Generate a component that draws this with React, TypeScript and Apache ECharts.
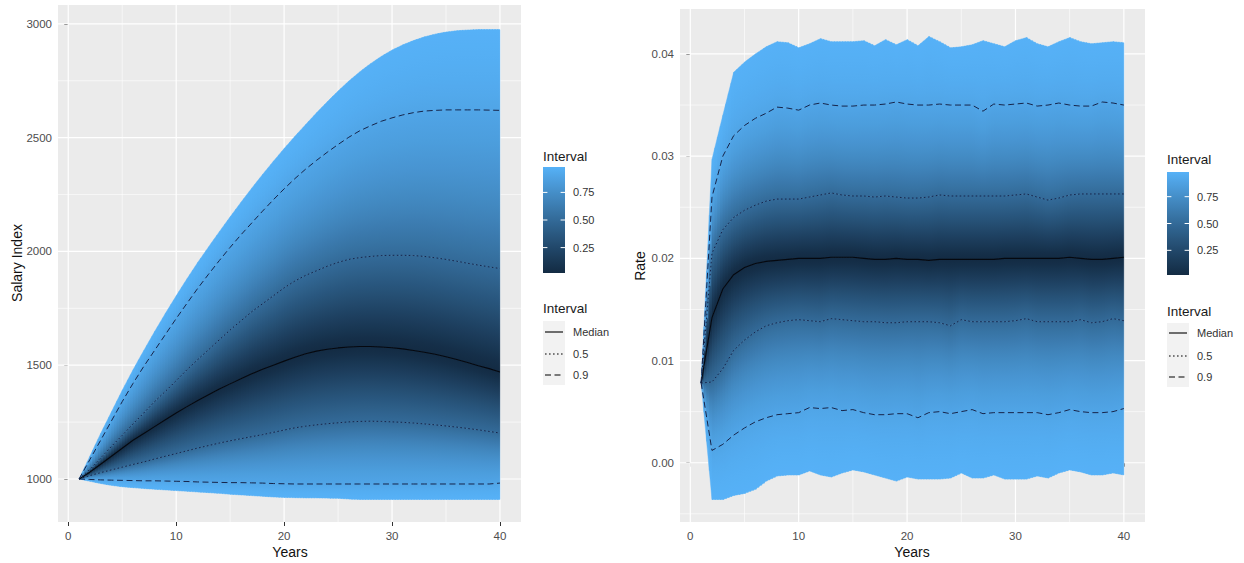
import React, { useEffect, useRef } from "react";
import * as echarts from "echarts";

// ---------------- data ----------------
const years = [1, 2, 3, 4, 5, 6, 7, 8, 9, 10, 11, 12, 13, 14, 15, 16, 17, 18, 19, 20,
  21, 22, 23, 24, 25, 26, 27, 28, 29, 30, 31, 32, 33, 34, 35, 36, 37, 38, 39, 40];

// Salary Index panel (quantile bands)
const salLo98 = [1000, 990, 980, 972, 966, 962, 958, 955, 952, 949, 946, 943, 940, 937, 933, 930, 927, 924, 921, 919,
  918, 917, 917, 916, 915, 912, 910, 910, 910, 910, 910, 910, 910, 910, 910, 910, 910, 910, 910, 910];
const salLo90 = [1000, 998, 996, 995, 994, 993, 992, 992, 991, 990, 989, 987, 986, 985, 984, 984, 983, 982, 980, 979,
  978, 978, 978, 978, 978, 978, 978, 978, 978, 978, 978, 978, 978, 978, 978, 978, 978, 978, 978, 982];
const salLo50 = [1000, 1015, 1028, 1040, 1052, 1064, 1075, 1088, 1100, 1112, 1124, 1136, 1147, 1158, 1168, 1177, 1186, 1195, 1205, 1215,
  1225, 1232, 1238, 1243, 1247, 1251, 1253, 1254, 1253, 1251, 1249, 1246, 1242, 1238, 1233, 1228, 1222, 1216, 1209, 1202];
const salMedian = [1000, 1030, 1065, 1100, 1135, 1170, 1200, 1230, 1260, 1290, 1318, 1345, 1370, 1395, 1418, 1440, 1462, 1482, 1500, 1518,
  1535, 1550, 1562, 1570, 1576, 1580, 1582, 1582, 1580, 1577, 1572, 1565, 1557, 1548, 1537, 1525, 1512, 1498, 1485, 1470];
const salHi50 = [1000, 1042, 1092, 1143, 1192, 1242, 1290, 1340, 1385, 1432, 1480, 1525, 1568, 1612, 1655, 1695, 1735, 1770, 1805, 1840,
  1870, 1895, 1915, 1935, 1952, 1965, 1973, 1978, 1982, 1983, 1983, 1982, 1978, 1972, 1965, 1957, 1948, 1940, 1932, 1925];
const salHi90 = [1000, 1085, 1170, 1255, 1340, 1420, 1495, 1565, 1635, 1705, 1772, 1838, 1900, 1960, 2018, 2073, 2125, 2177, 2227, 2275,
  2320, 2362, 2400, 2436, 2470, 2502, 2530, 2552, 2572, 2587, 2600, 2610, 2617, 2620, 2622, 2622, 2622, 2622, 2621, 2620];
const salHi98 = [1000, 1100, 1200, 1295, 1390, 1480, 1565, 1648, 1728, 1805, 1880, 1952, 2020, 2087, 2152, 2216, 2278, 2338, 2396, 2452,
  2506, 2558, 2609, 2658, 2705, 2749, 2789, 2825, 2857, 2885, 2908, 2927, 2943, 2955, 2964, 2970, 2973, 2975, 2975, 2975];

// Rate panel (quantile bands)
const rateLo98 = [0.0078, -0.0036, -0.0036, -0.0032, -0.0030, -0.0026, -0.0018, -0.0013, -0.0012, -0.0012,
  -0.0008, -0.0012, -0.0014, -0.0010, -0.0007, -0.0009, -0.0012, -0.0015, -0.0018, -0.0014,
  -0.0016, -0.0016, -0.0016, -0.0015, -0.0010, -0.0015, -0.0015, -0.0012, -0.0016, -0.0016,
  -0.0016, -0.0013, -0.0015, -0.0010, -0.0007, -0.0009, -0.0012, -0.0012, -0.0010, -0.0012];
const rateLo90 = [0.0078, 0.0012, 0.0018, 0.0027, 0.0034, 0.0040, 0.0044, 0.0047, 0.0048, 0.0049,
  0.0054, 0.0053, 0.0054, 0.0051, 0.0052, 0.0049, 0.0047, 0.0047, 0.0048, 0.0048,
  0.0044, 0.0049, 0.0050, 0.0048, 0.0050, 0.0052, 0.0048, 0.0049, 0.0049, 0.0049,
  0.0049, 0.0049, 0.0047, 0.0049, 0.0052, 0.0050, 0.0049, 0.0049, 0.0050, 0.0053];
const rateLo50 = [0.0078, 0.0079, 0.0092, 0.0110, 0.0120, 0.0128, 0.0134, 0.0137, 0.0139, 0.0140,
  0.0139, 0.0138, 0.0141, 0.0140, 0.0139, 0.0138, 0.0138, 0.0137, 0.0137, 0.0138,
  0.0138, 0.0138, 0.0137, 0.0134, 0.0140, 0.0138, 0.0138, 0.0138, 0.0138, 0.0139,
  0.0141, 0.0138, 0.0138, 0.0138, 0.0138, 0.0140, 0.0137, 0.0138, 0.0141, 0.0139];
const rateMedian = [0.0078, 0.0142, 0.0170, 0.0184, 0.0191, 0.0195, 0.0197, 0.0198, 0.0199, 0.0200,
  0.0200, 0.0200, 0.0201, 0.0201, 0.0201, 0.0200, 0.0199, 0.0199, 0.0200, 0.0199,
  0.0199, 0.0198, 0.0199, 0.0199, 0.0199, 0.0199, 0.0199, 0.0199, 0.0200, 0.0200,
  0.0200, 0.0200, 0.0200, 0.0200, 0.0201, 0.0200, 0.0199, 0.0199, 0.0200, 0.0201];
const rateHi50 = [0.0078, 0.0205, 0.0228, 0.0240, 0.0247, 0.0252, 0.0256, 0.0258, 0.0258, 0.0258,
  0.0260, 0.0262, 0.0264, 0.0262, 0.0261, 0.0261, 0.0260, 0.0261, 0.0260, 0.0259,
  0.0259, 0.0260, 0.0262, 0.0261, 0.0261, 0.0261, 0.0261, 0.0261, 0.0261, 0.0262,
  0.0263, 0.0260, 0.0257, 0.0259, 0.0262, 0.0263, 0.0263, 0.0263, 0.0263, 0.0263];
const rateHi90 = [0.0078, 0.0260, 0.0300, 0.0320, 0.0330, 0.0337, 0.0342, 0.0348, 0.0347, 0.0345,
  0.0350, 0.0352, 0.0350, 0.0349, 0.0349, 0.0350, 0.0350, 0.0351, 0.0353, 0.0351,
  0.0350, 0.0350, 0.0351, 0.0350, 0.0350, 0.0350, 0.0344, 0.0351, 0.0350, 0.0351,
  0.0352, 0.0349, 0.0350, 0.0352, 0.0350, 0.0349, 0.0349, 0.0353, 0.0352, 0.0350];
const rateHi98 = [0.0078, 0.0297, 0.0340, 0.0382, 0.0392, 0.0400, 0.0407, 0.0412, 0.0411, 0.0406,
  0.0410, 0.0415, 0.0412, 0.0412, 0.0412, 0.0413, 0.0408, 0.0414, 0.0409, 0.0414,
  0.0408, 0.0417, 0.0412, 0.0406, 0.0407, 0.0409, 0.0413, 0.0410, 0.0407, 0.0413,
  0.0416, 0.0410, 0.0407, 0.0412, 0.0416, 0.0412, 0.0410, 0.0411, 0.0412, 0.0411];

// axes
const xTicks = [0, 10, 20, 30, 40];
const xMinor = [5, 15, 25, 35];
const salTicks = [1000, 1500, 2000, 2500, 3000];
const salMinor = [1250, 1750, 2250, 2750];
const rateTicks = [0, 0.01, 0.02, 0.03, 0.04];
const rateTickLabels = ["0.00", "0.01", "0.02", "0.03", "0.04"];
const rateMinor = [-0.005, 0.005, 0.015, 0.025, 0.035];

// legends
const legendTitle = "Interval";
const colorbarTicks = [0.25, 0.5, 0.75];
const colorbarTickLabels = ["0.25", "0.50", "0.75"];
const lineLegendLabels = ["Median", "0.5", "0.9"];
const xAxisTitle = "Years";
const leftYTitle = "Salary Index";
const rightYTitle = "Rate";

// interval level attached to each boundary (outer 0.98, 0.9, 0.5, median, ...)
const boundaryLevels = [0.98, 0.9, 0.5, 0, 0.5, 0.9, 0.98];
const LEVEL_MIN = 0.02;
const LEVEL_MAX = 0.98;

// ---------------- colour helpers (ggplot Lab gradient) ----------------
const LOW = "#132B43";
const HIGH = "#56B1F7";
const FONT = "'Liberation Sans', Arial, Helvetica, sans-serif";

function hexRgb(h: string): number[] {
  const n = parseInt(h.slice(1), 16);
  return [(n >> 16) & 255, (n >> 8) & 255, n & 255];
}
function toLab(rgb: number[]): number[] {
  const lin = rgb.map((c) => {
    const v = c / 255;
    return v <= 0.04045 ? v / 12.92 : Math.pow((v + 0.055) / 1.055, 2.4);
  });
  const X = (0.4124 * lin[0] + 0.3576 * lin[1] + 0.1805 * lin[2]) / 0.95047;
  const Y = 0.2126 * lin[0] + 0.7152 * lin[1] + 0.0722 * lin[2];
  const Z = (0.0193 * lin[0] + 0.1192 * lin[1] + 0.9505 * lin[2]) / 1.08883;
  const f = (t: number) => (t > 0.008856 ? Math.cbrt(t) : 7.787 * t + 16 / 116);
  const fx = f(X), fy = f(Y), fz = f(Z);
  return [116 * fy - 16, 500 * (fx - fy), 200 * (fy - fz)];
}
function fromLab(lab: number[]): string {
  const fy = (lab[0] + 16) / 116;
  const fx = fy + lab[1] / 500;
  const fz = fy - lab[2] / 200;
  const inv = (f: number) => (f * f * f > 0.008856 ? f * f * f : (f - 16 / 116) / 7.787);
  const X = inv(fx) * 0.95047, Y = inv(fy), Z = inv(fz) * 1.08883;
  const lin = [
    3.2406 * X - 1.5372 * Y - 0.4986 * Z,
    -0.9689 * X + 1.8758 * Y + 0.0415 * Z,
    0.0557 * X - 0.204 * Y + 1.057 * Z,
  ];
  const c = lin.map((v) => {
    const s = v <= 0.0031308 ? 12.92 * v : 1.055 * Math.pow(v, 1 / 2.4) - 0.055;
    return Math.max(0, Math.min(255, Math.round(s * 255)));
  });
  return `rgb(${c[0]},${c[1]},${c[2]})`;
}
const labLow = toLab(hexRgb(LOW));
const labHigh = toLab(hexRgb(HIGH));
function colorAt(level: number): string {
  const t = Math.max(0, Math.min(1, (level - LEVEL_MIN) / (LEVEL_MAX - LEVEL_MIN)));
  return fromLab([0, 1, 2].map((k) => labLow[k] + (labHigh[k] - labLow[k]) * t));
}
function erf(x: number): number {
  const s = x < 0 ? -1 : 1;
  const a = Math.abs(x);
  const t = 1 / (1 + 0.3275911 * a);
  const y = 1 - (((((1.061405429 * t - 1.453152027) * t) + 1.421413741) * t - 0.284496736) * t + 0.254829592) * t * Math.exp(-a * a);
  return s * y;
}
const zOfLevel: Record<string, number> = { "0": 0, "0.5": 0.6745, "0.9": 1.6449, "0.98": 2.3263 };
const stopCache: Record<string, any[]> = {};
function bandStops(topLevel: number, botLevel: number) {
  const key = topLevel + "_" + botLevel;
  if (stopCache[key]) return stopCache[key];
  const z0 = zOfLevel[String(topLevel)];
  const z1 = zOfLevel[String(botLevel)];
  const stops: any[] = [];
  for (let k = 0; k <= 10; k++) {
    const t = k / 10;
    const z = z0 + (z1 - z0) * t;
    stops.push({ offset: t, color: colorAt(erf(z / Math.SQRT2)) });
  }
  stopCache[key] = stops;
  return stops;
}

// ---------------- series builders ----------------
function gridLineSeries(gi: number, xMaj: number[], xMin: number[], yMaj: number[], yMin: number[]) {
  const items: { v: number; major: boolean; vertical: boolean }[] = [
    ...xMin.map((v) => ({ v, major: false, vertical: true })),
    ...yMin.map((v) => ({ v, major: false, vertical: false })),
    ...xMaj.map((v) => ({ v, major: true, vertical: true })),
    ...yMaj.map((v) => ({ v, major: true, vertical: false })),
  ];
  return {
    type: "custom",
    xAxisIndex: gi,
    yAxisIndex: gi,
    silent: true,
    z: 1,
    clip: false,
    data: items.map((_, k) => [xMaj[0], yMaj[0], k]),
    renderItem: (params: any, api: any) => {
      const it = items[params.dataIndex];
      const cs = params.coordSys;
      const style = { stroke: "#ffffff", lineWidth: it.major ? 1.2 : 0.6 };
      if (it.vertical) {
        const px = api.coord([it.v, yMaj[0]])[0];
        return { type: "line", shape: { x1: px, y1: cs.y, x2: px, y2: cs.y + cs.height }, style };
      }
      const py = api.coord([xMaj[0], it.v])[1];
      return { type: "line", shape: { x1: cs.x, y1: py, x2: cs.x + cs.width, y2: py }, style };
    },
  };
}

const SUB = 4;
function fanSeries(gi: number, bounds: number[][]) {
  return {
    type: "custom",
    xAxisIndex: gi,
    yAxisIndex: gi,
    silent: true,
    z: 2,
    clip: false,
    data: years.slice(0, years.length - 1).map((y, i) => [y, bounds[3][i]]),
    renderItem: (params: any, api: any) => {
      const i = params.dataIndex;
      const children: any[] = [];
      const last = i === years.length - 2;
      for (let b = 0; b < bounds.length - 1; b++) {
        const loA = api.coord([years[i], bounds[b][i]]);
        const loB = api.coord([years[i + 1], bounds[b][i + 1]]);
        const hiA = api.coord([years[i], bounds[b + 1][i]]);
        const hiB = api.coord([years[i + 1], bounds[b + 1][i + 1]]);
        const stops = bandStops(boundaryLevels[b + 1], boundaryLevels[b]);
        const lx = (t: number) => loA[0] + (loB[0] - loA[0]) * t;
        const ly = (t: number) => loA[1] + (loB[1] - loA[1]) * t;
        const hy = (t: number) => hiA[1] + (hiB[1] - hiA[1]) * t;
        for (let s = 0; s < SUB; s++) {
          const t0 = s / SUB, t1 = (s + 1) / SUB, tm = (t0 + t1) / 2;
          const lastPiece = last && s === SUB - 1;
          const x0 = lx(t0), x1 = lx(t1);
          const pts: number[][] = [[x0, ly(t0)], [x1, ly(t1)]];
          if (!lastPiece) {
            // small flat overlap so neighbouring pieces leave no seam
            pts.push([x1 + 1, ly(t1)], [x1 + 1, hy(t1)]);
          }
          pts.push([x1, hy(t1)], [x0, hy(t0)]);
          let yTop = hy(tm), yBot = ly(tm);
          if (yBot - yTop < 0.01) yBot = yTop + 0.01;
          const g = new echarts.graphic.LinearGradient(0, yTop, 0, yBot, stops, true);
          children.push({
            type: "polygon",
            shape: { points: pts },
            style: { fill: g, stroke: g, lineWidth: 0.4 },
          });
        }
      }
      return { type: "group", children };
    },
  };
}

const DOTTED = [1.6, 2.4];
const DASHED = [6, 3.5];

function lineSeries(gi: number, name: string, arr: number[], type: any, color: string, width: number) {
  return {
    type: "line",
    name,
    xAxisIndex: gi,
    yAxisIndex: gi,
    data: years.map((y, i) => [y, arr[i]]),
    showSymbol: false,
    symbol: "none",
    silent: true,
    z: 3,
    lineStyle: { color, width, type },
  };
}

function panelSeries(gi: number, bounds: number[][], yMaj: number[], yMin: number[]) {
  const lineCol = "#15244a";
  return [
    gridLineSeries(gi, xTicks, xMinor, yMaj, yMin),
    fanSeries(gi, bounds),
    lineSeries(gi, "0.9 lower", bounds[1], DASHED, lineCol, 1),
    lineSeries(gi, "0.5 lower", bounds[2], DOTTED, lineCol, 1),
    lineSeries(gi, "Median", bounds[3], "solid", "#05080f", 1.1),
    lineSeries(gi, "0.5 upper", bounds[4], DOTTED, lineCol, 1),
    lineSeries(gi, "0.9 upper", bounds[5], DASHED, lineCol, 1),
  ];
}

// ---------------- legend graphics ----------------
function legendGraphics(L: any) {
  const els: any[] = [];
  const barW = 22;
  const pos = (lv: number) => L.barBottom - ((lv - LEVEL_MIN) / (LEVEL_MAX - LEVEL_MIN)) * (L.barBottom - L.barTop);
  const stops: any[] = [];
  for (let k = 0; k <= 20; k++) {
    const t = k / 20;
    stops.push({ offset: t, color: colorAt(LEVEL_MAX - t * (LEVEL_MAX - LEVEL_MIN)) });
  }
  els.push({
    type: "text", x: L.barX, y: L.titleY,
    style: { text: legendTitle, fontSize: 13.5, fill: "#1a1a1a", fontFamily: FONT, align: "left", verticalAlign: "middle" },
  });
  els.push({
    type: "rect", shape: { x: L.barX, y: L.barTop, width: barW, height: L.barBottom - L.barTop },
    style: { fill: new echarts.graphic.LinearGradient(0, 0, 0, 1, stops) },
  });
  colorbarTicks.forEach((lv, k) => {
    const y = pos(lv);
    els.push({ type: "line", shape: { x1: L.barX, y1: y, x2: L.barX + 4.4, y2: y }, style: { stroke: "#ffffff", lineWidth: 1 } });
    els.push({ type: "line", shape: { x1: L.barX + barW - 4.4, y1: y, x2: L.barX + barW, y2: y }, style: { stroke: "#ffffff", lineWidth: 1 } });
    els.push({
      type: "text", x: L.labelX, y,
      style: { text: colorbarTickLabels[k], fontSize: 11, fill: "#333333", fontFamily: FONT, align: "left", verticalAlign: "middle" },
    });
  });
  // line-type legend
  els.push({
    type: "text", x: L.barX, y: L.title2Y,
    style: { text: legendTitle, fontSize: 13.5, fill: "#1a1a1a", fontFamily: FONT, align: "left", verticalAlign: "middle" },
  });
  els.push({
    type: "rect", shape: { x: L.barX, y: L.keyTop, width: barW, height: L.keyBottom - L.keyTop },
    style: { fill: "#F2F2F2" },
  });
  const dashes = [null, DOTTED, DASHED];
  lineLegendLabels.forEach((lab, k) => {
    const y = L.itemYs[k];
    els.push({
      type: "line", shape: { x1: L.barX + 2, y1: y, x2: L.barX + barW - 2, y2: y },
      style: { stroke: "#000000", lineWidth: 1.1, lineDash: dashes[k] || undefined },
    });
    els.push({
      type: "text", x: L.labelX, y,
      style: { text: lab, fontSize: 11, fill: "#333333", fontFamily: FONT, align: "left", verticalAlign: "middle" },
    });
  });
  return els;
}

function axisTitle(text: string, x: number, y: number, rotate: boolean) {
  return {
    type: "text", x, y, rotation: rotate ? Math.PI / 2 : 0,
    style: { text, x: 0, y: 0, fontSize: 14, fill: "#111111", fontFamily: FONT, align: "center", verticalAlign: "middle" },
  };
}

function xAxisDef(gi: number) {
  return {
    gridIndex: gi,
    type: "value",
    min: -0.95,
    max: 41.95,
    splitLine: { show: false },
    axisLine: { show: false },
    axisTick: { show: true, length: 4, lineStyle: { color: "#333333", width: 1 }, customValues: xTicks },
    axisLabel: { customValues: xTicks, color: "#4D4D4D", fontSize: 11.5, margin: 8, fontFamily: FONT, formatter: (v: number) => String(v) },
  };
}

export default function App() {
  const ref = useRef<HTMLDivElement>(null);
  useEffect(() => {
    if (!ref.current) return;
    const chart = echarts.init(ref.current, undefined, { renderer: "svg" });
    const salBounds = [salLo98, salLo90, salLo50, salMedian, salHi50, salHi90, salHi98];
    const rateBounds = [rateLo98, rateLo90, rateLo50, rateMedian, rateHi50, rateHi90, rateHi98];
    const option: any = {
      animation: false,
      backgroundColor: "#ffffff",
      textStyle: { fontFamily: FONT },
      grid: [
        { left: 58, top: 5, width: 463, height: 517, show: true, backgroundColor: "#EBEBEB", borderWidth: 0, containLabel: false, outerBoundsMode: "none" },
        { left: 680, top: 9, width: 465, height: 513, show: true, backgroundColor: "#EBEBEB", borderWidth: 0, containLabel: false, outerBoundsMode: "none" },
      ],
      xAxis: [xAxisDef(0), xAxisDef(1)],
      yAxis: [
        {
          gridIndex: 0, type: "value", min: 811, max: 3083,
          splitLine: { show: false }, axisLine: { show: false },
          axisTick: { show: true, length: 4, lineStyle: { color: "#333333", width: 1 }, customValues: salTicks },
          axisLabel: { customValues: salTicks, color: "#4D4D4D", fontSize: 11.5, margin: 6, fontFamily: FONT, formatter: (v: number) => String(v) },
        },
        {
          gridIndex: 1, type: "value", min: -0.0058, max: 0.0444,
          splitLine: { show: false }, axisLine: { show: false },
          axisTick: { show: true, length: 4, lineStyle: { color: "#333333", width: 1 }, customValues: rateTicks },
          axisLabel: {
            customValues: rateTicks, color: "#4D4D4D", fontSize: 11.5, margin: 6, fontFamily: FONT,
            formatter: (v: number) => {
              const k = rateTicks.findIndex((t) => Math.abs(t - v) < 1e-9);
              return k >= 0 ? rateTickLabels[k] : v.toFixed(2);
            },
          },
        },
      ],
      series: [
        ...panelSeries(0, salBounds, salTicks, salMinor),
        ...panelSeries(1, rateBounds, rateTicks, rateMinor),
      ],
      graphic: [
        ...legendGraphics({ barX: 543, barTop: 167, barBottom: 273, titleY: 156, title2Y: 308, itemYs: [332, 354, 375], keyTop: 321, keyBottom: 385, labelX: 573 }),
        ...legendGraphics({ barX: 1167, barTop: 172, barBottom: 275, titleY: 159, title2Y: 311, itemYs: [333, 356, 377], keyTop: 323, keyBottom: 387, labelX: 1197 }),
        axisTitle(xAxisTitle, 290, 552, false),
        axisTitle(xAxisTitle, 912, 552, false),
        axisTitle(leftYTitle, 17, 263, true),
        axisTitle(rightYTitle, 640, 266, true),
      ],
    };
    chart.setOption(option);
    return () => chart.dispose();
  }, []);
  return <div ref={ref} style={{ position: "absolute", left: 0, top: 0, width: 1244, height: 563 }} />;
}
